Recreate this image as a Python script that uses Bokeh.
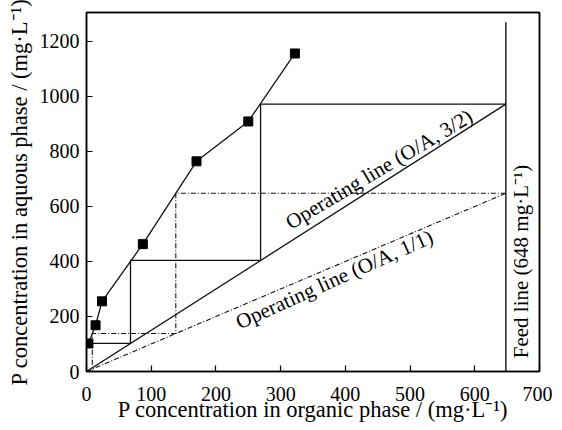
import math
from bokeh.plotting import figure
from bokeh.models import Range1d, FixedTicker, LinearAxis
from bokeh.core.properties import value
from bokeh.embed import file_html
from bokeh.resources import INLINE

# Equilibrium isotherm
eq_x = [3, 14, 24, 87, 170, 250, 322]
eq_y = [102, 168, 255, 463, 764, 909, 1156]

# Operating lines
op32_x = [0, 648]
op32_y = [0, 972]
op11_x = [0, 648]
op11_y = [0, 648]

# McCabe-Thiele steps
stair32_x = [648, 269, 269, 68, 68, 3]
stair32_y = [972, 972, 404, 404, 102, 102]
stair11_x = [648, 138, 138, 9, 9]
stair11_y = [648, 648, 138, 138, 0]

# Feed line
feed_x = [648, 648]
feed_y = [0, 1270]

x_ticks = [0, 100, 200, 300, 400, 500, 600, 700]
y_ticks = [0, 200, 400, 600, 800, 1000, 1200]

FONT = "Liberation Serif"

BL, BR, BT, BB = 86, 13, 12, 57
W, H = 552, 428
p = figure(width=W, height=H, output_backend="svg", toolbar_location=None,
           x_range=Range1d(0, 700), y_range=Range1d(0, 1305),
           min_border_left=BL, min_border_right=BR, min_border_top=BT,
           min_border_bottom=BB)
p.background_fill_color = "white"
p.border_fill_color = "white"
p.outline_line_color = "black"
p.outline_line_width = 1.5
p.xgrid.visible = False
p.ygrid.visible = False

# frame lines on top and right
for loc in ("above", "right"):
    ax = LinearAxis(ticker=FixedTicker(ticks=[]), axis_line_width=1.5,
                    axis_line_color="black", major_tick_line_color=None,
                    minor_tick_line_color=None, major_label_text_font_size="0px",
                    major_label_standoff=0)
    p.add_layout(ax, loc)

main_x = p.below[0]
main_y = p.left[0]
for ax, ticks in ((main_x, x_ticks), (main_y, y_ticks)):
    ax.ticker = FixedTicker(ticks=ticks)
    ax.major_tick_in = 6
    ax.major_tick_out = 0
    ax.minor_tick_line_color = None
    ax.axis_line_width = 1.5
    ax.axis_line_color = "black"
    ax.major_tick_line_color = "black"
    ax.major_tick_line_width = 1.2
    ax.major_label_text_font = FONT
    ax.major_label_text_font_size = "20px"
    ax.major_label_text_color = "black"
    ax.axis_label_text_font = FONT
    ax.axis_label_text_font_size = "22.5px"
    ax.axis_label_text_font_style = "normal"
    ax.axis_label_text_color = "black"

main_x.axis_label = "P concentration in organic phase / (mg·L⁻¹)"
main_y.axis_label = "P concentration in aquous phase / (mg·L⁻¹)"
main_x.major_label_standoff = 15
main_y.major_label_standoff = 7
main_x.axis_label_standoff = -7
main_y.axis_label_standoff = 5

lc = "#111111"
DD = "5 2 1 2"

p.line(op32_x, op32_y, line_color=lc, line_width=1.3)
p.line(op11_x, op11_y, line_color=lc, line_width=1.1, line_dash=DD)
p.line(stair32_x, stair32_y, line_color=lc, line_width=1.3)
p.line(stair11_x, stair11_y, line_color=lc, line_width=1.1, line_dash=DD)
p.line(feed_x, feed_y, line_color=lc, line_width=1.4)
p.line(eq_x, eq_y, line_color=lc, line_width=1.3)
p.scatter(eq_x, eq_y, marker="square", size=9, fill_color="black", line_color="black")

# screen-space angles of the lines
fw = W - BL - BR
fh = H - BT - BB
sx = fw / 700.0
sy = fh / 1305.0
ang32 = math.atan(1.5 * sy / sx) - 0.03
ang11 = math.atan(1.0 * sy / sx) + 0.02

label_x = [452, 383]
label_y = [735, 335]
label_txt = ["Operating line (O/A, 3/2)", "Operating line (O/A, 1/1)"]
p.text(x=[label_x[0]], y=[label_y[0]], text=[label_txt[0]], angle=ang32,
       text_align="center", text_baseline="middle",
       text_font=value(FONT), text_font_size="21px", text_color="black")
p.text(x=[label_x[1]], y=[label_y[1]], text=[label_txt[1]], angle=ang11,
       text_align="center", text_baseline="middle",
       text_font=value(FONT), text_font_size="21px", text_color="black")
p.text(x=[671], y=[400], text=["Feed line (648 mg·L⁻¹)"], angle=math.pi / 2,
       text_align="center", text_baseline="middle",
       text_font=value(FONT), text_font_size="21px", text_color="black")

open("out.html", "w").write(file_html(p, INLINE))
